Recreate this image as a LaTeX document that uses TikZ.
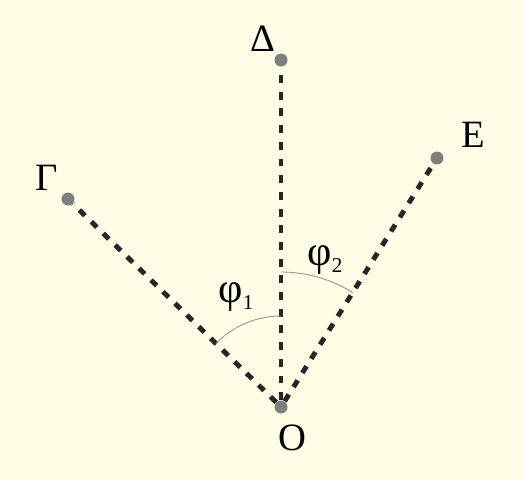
\documentclass[tikz,border=0pt]{standalone}
\usepackage{fontspec}
\setmainfont{Liberation Serif}
\definecolor{cream}{RGB}{254,253,230}
\definecolor{dotgray}{RGB}{125,128,125}
\definecolor{arcgray}{RGB}{150,150,135}
\newcommand{\phisub}[1]{φ\raisebox{-0.35ex}{\fontsize{12}{12}\selectfont #1}}
\begin{document}
\begin{tikzpicture}
            \tikzset{gpoint/.style = {circle, fill=dotgray, draw=none, inner sep=0pt, minimum size=0.26cm}}
            \tikzset{dline/.style = {line width=2.8pt, dash pattern=on 4.5pt off 5pt, black!85}}
            \tikzset{lbl/.style = {font=\fontsize{22}{24}\selectfont}}
            \tikzset{flbl/.style = {font=\fontsize{24}{26}\selectfont}}
            \fill[cream] (-5.62,-1.46) rectangle (4.84,8.14);
            \useasboundingbox (-5.62,-1.46) rectangle (4.84,8.14);
            
            \node[gpoint] (O) at (0,0) {};
            \node[gpoint] (D) at (0,6.94) {};
            \node[gpoint] (E) at (3.12,4.98) {};
            \node[gpoint] (G) at (-4.26,4.16) {};
            
            \draw[dline] (O)--(D);
            \draw[dline] (O)--(E);
            \draw[dline] (O)--(G);
            
            \draw[arcgray, line width=0.5pt] ([shift={(90:1.82)}]O.center) arc (90:135.7:1.82);
            \draw[arcgray, line width=0.5pt] ([shift={(57.9:2.7)}]O.center) arc (57.9:90:2.7);
            
            \node[lbl] (lD) at (-0.36,7.36) {Δ};
            \node[lbl] (lE) at (3.84,5.44) {Ε};
            \node[lbl] (lG) at (-4.68,4.58) {Γ};
            \node[lbl] (lO) at (0.22,-0.62) {Ο};
            \node[flbl] (f1) at (-0.9,2.2) {\phisub{1}};
            \node[flbl] (f2) at (0.88,2.94) {\phisub{2}};
            
        \end{tikzpicture}
\end{document}
